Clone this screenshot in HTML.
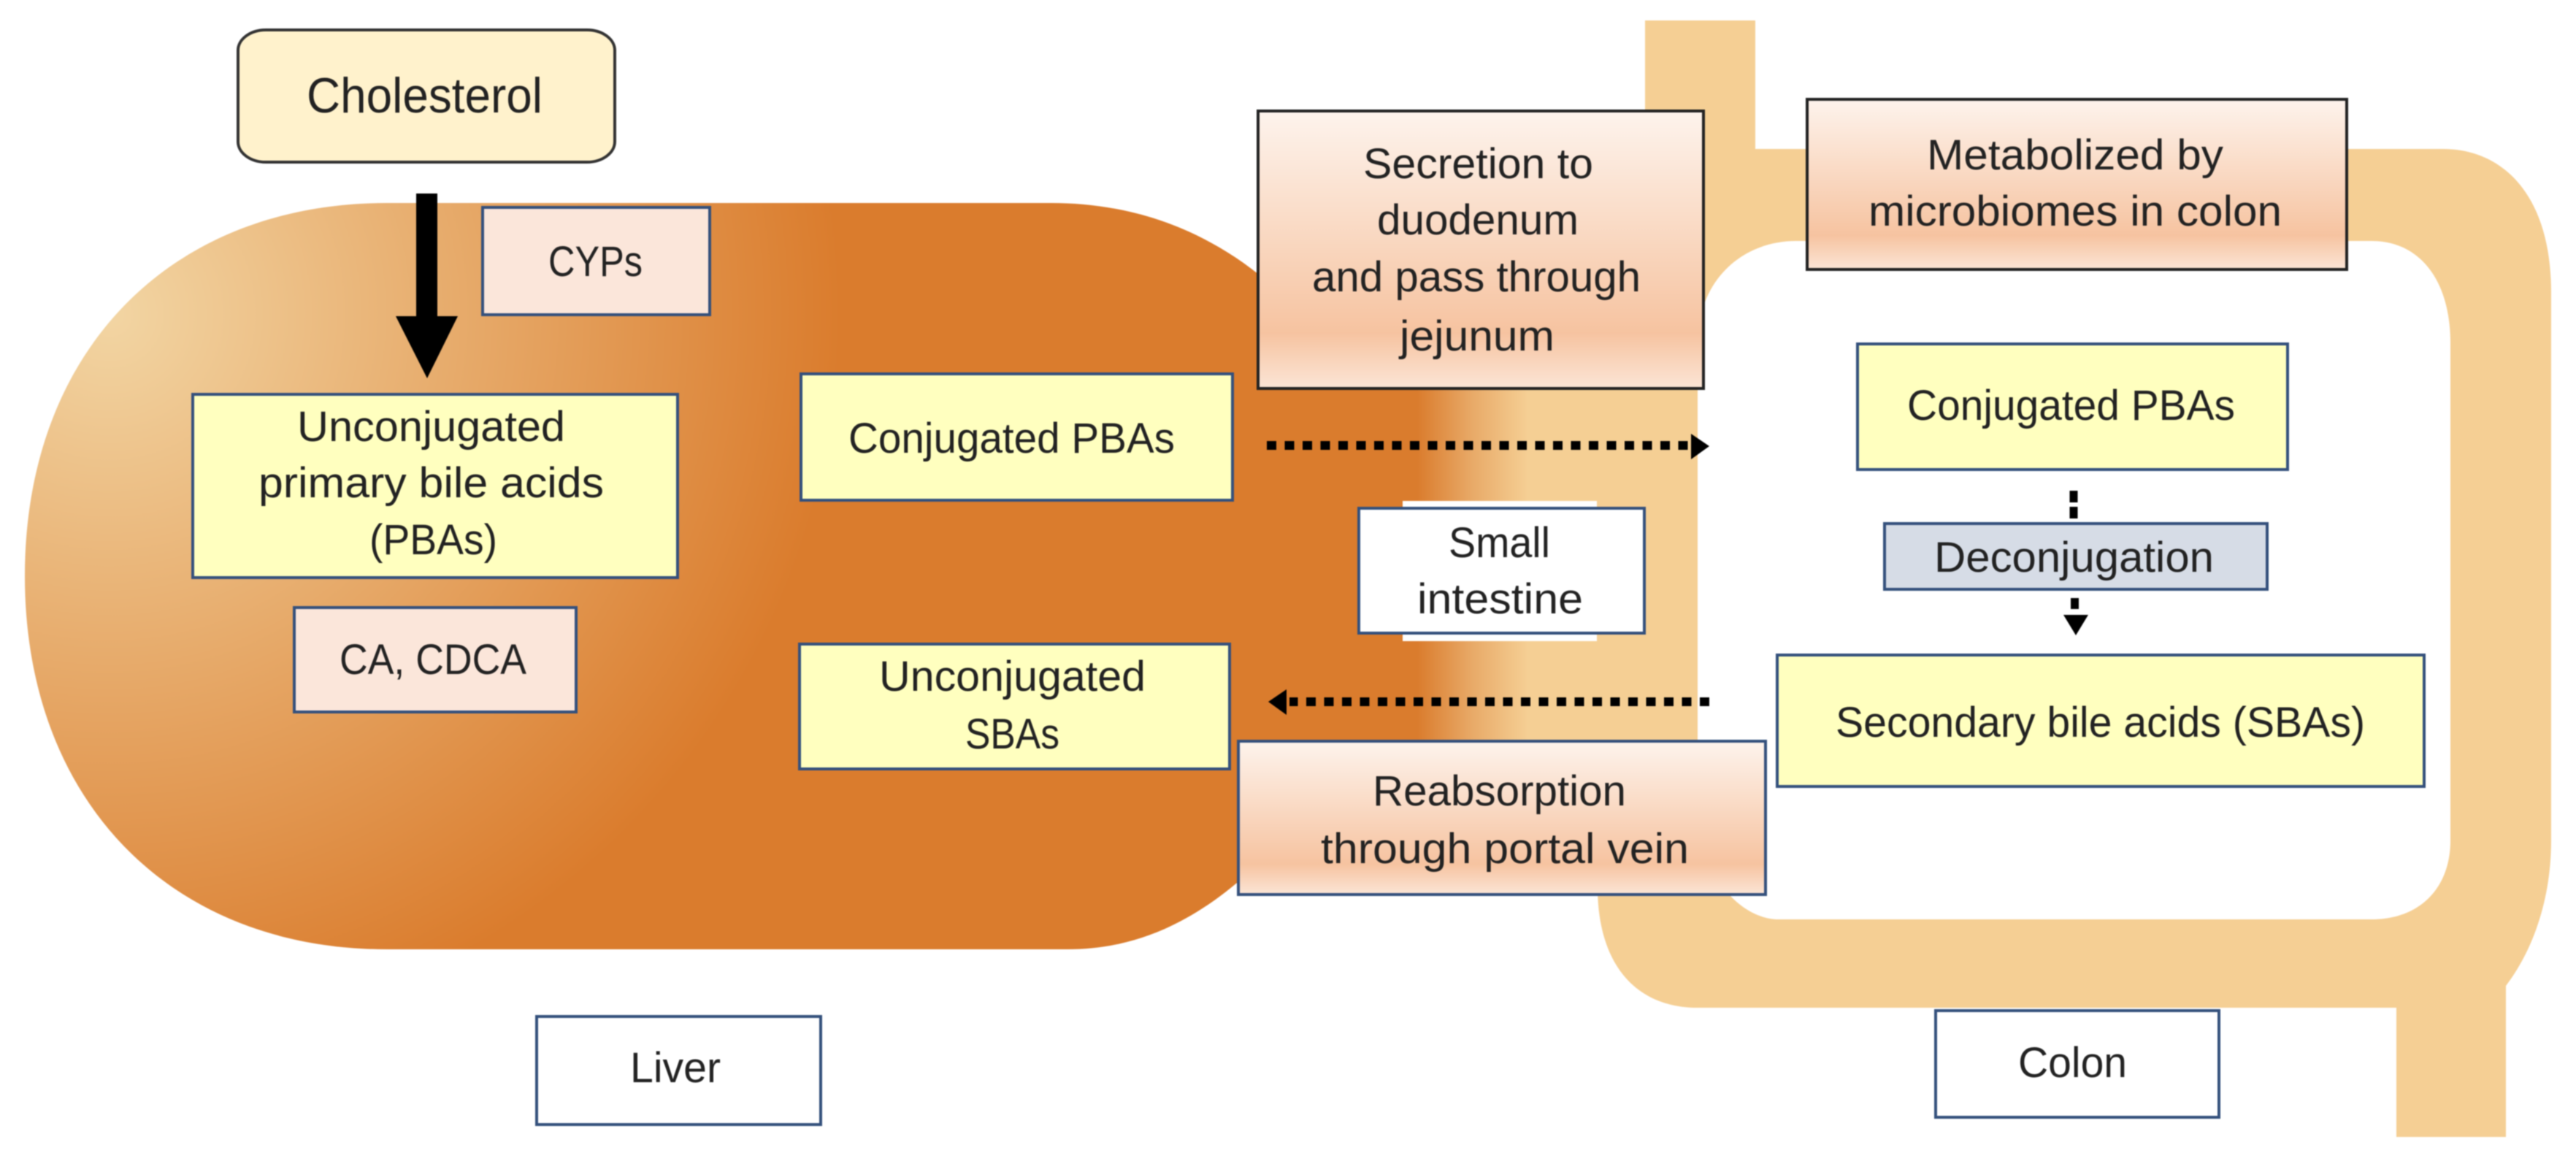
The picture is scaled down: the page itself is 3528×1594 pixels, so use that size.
<!DOCTYPE html>
<html><head><meta charset="utf-8"><style>
html,body{margin:0;padding:0;background:#fff}
svg{display:block;filter:blur(0.8px)}
text{font-family:"Liberation Sans",sans-serif;fill:#222;font-size:58px}
</style></head><body>
<svg xmlns="http://www.w3.org/2000/svg" width="3528" height="1594" viewBox="0 0 3528 1594">
<defs>
<radialGradient id="liver" gradientUnits="userSpaceOnUse" cx="150" cy="430" r="1000">
<stop offset="0" stop-color="#f2d5a3"/><stop offset="1" stop-color="#da7c2d"/>
</radialGradient>
<linearGradient id="strip" gradientUnits="userSpaceOnUse" x1="1941" y1="0" x2="2093" y2="0">
<stop offset="0" stop-color="#da7c2d"/><stop offset="0.5" stop-color="#e8aa68"/><stop offset="1" stop-color="#f5cf94"/>
</linearGradient>
<linearGradient id="peach" x1="0" y1="0" x2="0" y2="1">
<stop offset="0" stop-color="#fdf3ec"/><stop offset="0.8" stop-color="#f6c3a0"/><stop offset="1" stop-color="#fbe5d6"/>
</linearGradient>
</defs>
<rect width="3528" height="1594" fill="#fff"/>

<!-- colon -->
<path fill="#f5cf94" d="M2253 28H2404V204H3346C3430 204 3494 270 3494 400V1151C3494 1230 3470 1300 3432 1350V1557H3282V1380H2325C2240 1380 2188 1320 2188 1215V900H2253Z"/>
<path fill="#fff" d="M2325 1000V470C2325 385 2385 330 2460 330H3248C3315 330 3356 385 3356 470V1151C3356 1215 3315 1259 3248 1259H2436C2385 1259 2325 1200 2325 1100Z"/>

<!-- small intestine band -->
<rect x="1700" y="500" width="625" height="530" fill="url(#strip)"/>

<!-- liver -->
<path fill="url(#liver)" d="M530 278H1440C1560 278 1690 320 1800 450V1100C1700 1220 1600 1300 1462 1300H530C232 1300 34 1095 34 789C34 482 232 278 530 278Z"/>
<rect x="1790" y="440" width="151" height="600" fill="#da7c2d"/>

<!-- white bars behind small intestine -->
<rect x="1921" y="686" width="266" height="192" fill="#fff"/>

<!-- cholesterol -->
<rect x="326" y="41" width="516" height="181" rx="38" ry="28" fill="#fff2cc" stroke="#333" stroke-width="4"/>
<text x="420" y="154" textLength="323" lengthAdjust="spacingAndGlyphs" style="font-size:68px">Cholesterol</text>

<!-- big arrow -->
<path fill="#000" d="M570 265H599V433H627L585 518L542 433H570Z"/>

<!-- boxes -->
<g stroke="#34507c" stroke-width="4">
<rect x="661" y="284" width="311" height="147" fill="#fbe6da"/>
<rect x="264" y="540" width="664" height="251" fill="#ffffbf"/>
<rect x="1097" y="512" width="591" height="173" fill="#ffffbf"/>
<rect x="403" y="832" width="386" height="143" fill="#fbe6da"/>
<rect x="1095" y="882" width="589" height="171" fill="#ffffbf"/>
<rect x="735" y="1392" width="389" height="148" fill="#fff"/>
<rect x="1861" y="696" width="391" height="171" fill="#fff"/>
<rect x="2544" y="471" width="589" height="172" fill="#ffffbf"/>
<rect x="2581" y="717" width="524" height="90" fill="#d6dce6"/>
<rect x="2434" y="897" width="886" height="180" fill="#ffffbf"/>
<rect x="2651" y="1384" width="388" height="146" fill="#fff"/>
<rect x="1696" y="1015" width="722" height="210" fill="url(#peach)"/>
</g>
<g stroke="#222" stroke-width="4">
<rect x="1723" y="152" width="610" height="380" fill="url(#peach)"/>
<rect x="2475" y="136" width="739" height="233" fill="url(#peach)"/>
</g>

<!-- dotted arrows -->
<line x1="1735" y1="610" x2="2318" y2="610" stroke="#000" stroke-width="12" stroke-dasharray="13 11.5"/>
<path fill="#000" d="M2316 594L2341 611L2316 629Z"/>
<line x1="2341" y1="961" x2="1766" y2="961" stroke="#000" stroke-width="12" stroke-dasharray="13 11.5"/>
<path fill="#000" d="M1762 944L1737 961L1762 979Z"/>
<line x1="2840" y1="672" x2="2840" y2="711" stroke="#000" stroke-width="11" stroke-dasharray="16 6"/>
<rect x="2836" y="819" width="11" height="15" fill="#000"/>
<path fill="#000" d="M2826 842H2860L2843 870Z"/>

<!-- labels -->
<text x="751" y="378" textLength="129" lengthAdjust="spacingAndGlyphs">CYPs</text>
<text x="407" y="604" textLength="367" lengthAdjust="spacingAndGlyphs">Unconjugated</text>
<text x="354" y="681" textLength="473" lengthAdjust="spacingAndGlyphs">primary bile acids</text>
<text x="506" y="759" textLength="175" lengthAdjust="spacingAndGlyphs">(PBAs)</text>
<text x="1162" y="620" textLength="447" lengthAdjust="spacingAndGlyphs">Conjugated PBAs</text>
<text x="465" y="923" textLength="256" lengthAdjust="spacingAndGlyphs">CA, CDCA</text>
<text x="1204" y="946" textLength="365" lengthAdjust="spacingAndGlyphs">Unconjugated</text>
<text x="1322" y="1025" textLength="129" lengthAdjust="spacingAndGlyphs">SBAs</text>
<text x="863" y="1482" textLength="124" lengthAdjust="spacingAndGlyphs">Liver</text>
<text x="1867" y="244" textLength="315" lengthAdjust="spacingAndGlyphs">Secretion to</text>
<text x="1886" y="321" textLength="276" lengthAdjust="spacingAndGlyphs">duodenum</text>
<text x="1797" y="399" textLength="450" lengthAdjust="spacingAndGlyphs">and pass through</text>
<text x="1917" y="480" textLength="212" lengthAdjust="spacingAndGlyphs">jejunum</text>
<text x="2639" y="232" textLength="406" lengthAdjust="spacingAndGlyphs">Metabolized by</text>
<text x="2559" y="309" textLength="566" lengthAdjust="spacingAndGlyphs">microbiomes in colon</text>
<text x="2612" y="575" textLength="449" lengthAdjust="spacingAndGlyphs">Conjugated PBAs</text>
<text x="2649" y="783" textLength="383" lengthAdjust="spacingAndGlyphs">Deconjugation</text>
<text x="1880" y="1103" textLength="347" lengthAdjust="spacingAndGlyphs">Reabsorption</text>
<text x="1809" y="1182" textLength="504" lengthAdjust="spacingAndGlyphs">through portal vein</text>
<text x="2514" y="1009" textLength="725" lengthAdjust="spacingAndGlyphs">Secondary bile acids (SBAs)</text>
<text x="2764" y="1475" textLength="149" lengthAdjust="spacingAndGlyphs">Colon</text>
<text x="1984" y="763" textLength="139" lengthAdjust="spacingAndGlyphs">Small</text>
<text x="1941" y="840" textLength="227" lengthAdjust="spacingAndGlyphs">intestine</text>
</svg>
</body></html>
